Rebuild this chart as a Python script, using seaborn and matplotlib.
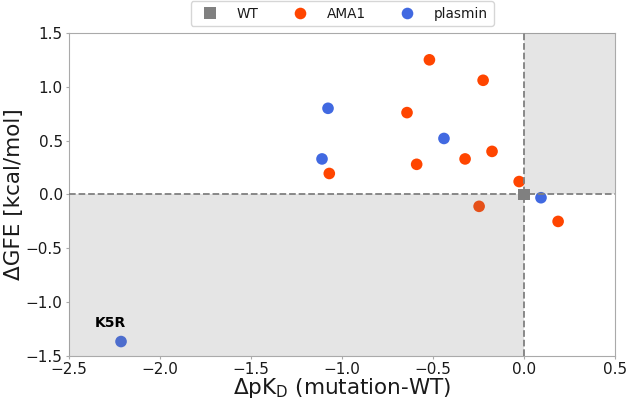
import matplotlib
matplotlib.use("Agg")
import matplotlib.pyplot as plt
import seaborn as sns
import pandas as pd

groups = ["WT",
          "AMA1", "AMA1", "AMA1", "AMA1", "AMA1", "AMA1", "AMA1", "AMA1", "AMA1", "AMA1",
          "plasmin", "plasmin", "plasmin", "plasmin", "plasmin"]
dpkd = [0.0,
        -0.52, -0.225, -0.643, -0.176, -0.324, -0.59, -1.07, -0.027, -0.247, 0.187,
        -1.077, -0.44, -1.11, 0.093, -2.214]
dgfe = [0.0,
        1.25, 1.06, 0.76, 0.40, 0.33, 0.28, 0.195, 0.12, -0.11, -0.25,
        0.80, 0.52, 0.33, -0.03, -1.365]
labels = ["", "", "", "", "", "", "", "", "", "", "", "", "", "", "", "K5R"]

df = pd.DataFrame({"group": groups, "dpKD": dpkd, "dGFE": dgfe, "label": labels})

sns.set_style("ticks")
plt.rcParams["font.family"] = ["DejaVu Sans"]

fig = plt.figure(figsize=(6.27, 4.01), dpi=100)
ax = fig.add_axes([0.110, 0.112, 0.871, 0.806])

palette = {"WT": "grey", "AMA1": "orangered", "plasmin": "royalblue"}
markers = {"WT": "s", "AMA1": "o", "plasmin": "o"}
sns.scatterplot(data=df, x="dpKD", y="dGFE", hue="group", style="group",
                palette=palette, markers=markers, s=70, linewidth=0,
                ax=ax, zorder=2, legend=True)

ax.set_xlim(-2.5, 0.5)
ax.set_ylim(-1.5, 1.5)
ax.fill_between([-2.5, 0], -1.5, 0, color="grey", alpha=0.2, linewidth=0, zorder=3)
ax.fill_between([0, 0.5], 0, 1.5, color="grey", alpha=0.2, linewidth=0, zorder=3)
ax.axhline(0, color="grey", linestyle="--", linewidth=1.3, zorder=4)
ax.axvline(0, color="grey", linestyle="--", linewidth=1.3, zorder=4)

for x, y, t in zip(dpkd, dgfe, labels):
    if t:
        ax.text(x - 0.06, y + 0.17, t, fontsize=10, fontweight="bold",
                ha="center", va="center", zorder=5, color="black")

ax.set_xticks([-2.5, -2.0, -1.5, -1.0, -0.5, 0.0, 0.5])
ax.set_yticks([-1.5, -1.0, -0.5, 0.0, 0.5, 1.0, 1.5])
ax.tick_params(labelsize=11, colors="#aaaaaa", labelcolor="#1a1a1a", length=2.5, pad=2)
for sp in ax.spines.values():
    sp.set_color("#aaaaaa")
ax.set_xlabel("ΔpK$_\\mathregular{D}$ (mutation-WT)", fontsize=15.5, labelpad=-1,
              color="#1a1a1a")
ax.set_ylabel("ΔGFE [kcal/mol]", fontsize=15.5, labelpad=1, color="#1a1a1a")

leg = ax.legend(loc="lower center", bbox_to_anchor=(0.5, 1.0), ncol=3, fontsize=9.8,
                frameon=True, title=None, markerscale=1.0, columnspacing=2.0,
                handletextpad=1.0, borderaxespad=0.5)
for t in leg.get_texts():
    t.set_color("#1a1a1a")

fig.savefig("out.png", dpi=100)
